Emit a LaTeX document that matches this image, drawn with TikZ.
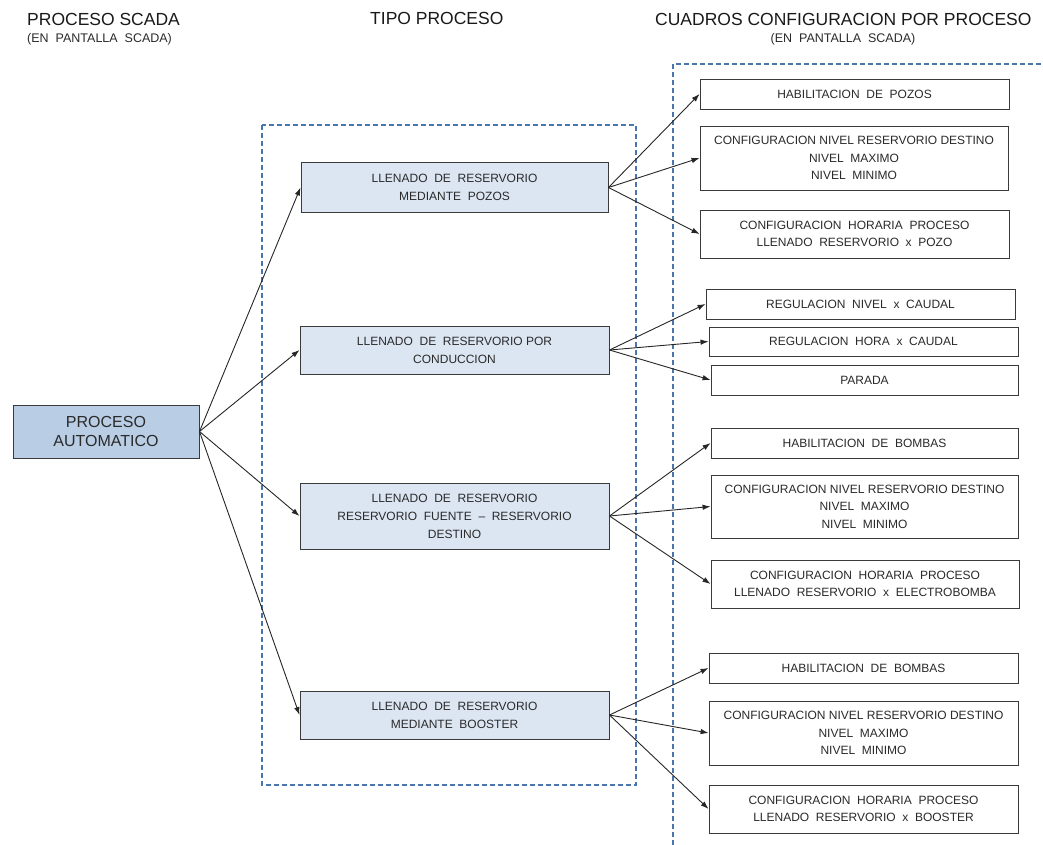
\documentclass[tikz,border=0pt]{standalone}
\usepackage{fontspec}
\setmainfont{Liberation Sans}
\usetikzlibrary{arrows.meta}
\definecolor{frameblue}{HTML}{4A76AE}
\definecolor{mainfill}{HTML}{B9CDE5}
\definecolor{typefill}{HTML}{DCE6F2}
\definecolor{boxline}{HTML}{3A3A3A}
\definecolor{txt}{HTML}{2A2A2A}
\begin{document}
\begin{tikzpicture}[x=1pt,y=-1pt,
  every node/.style={text=txt, inner sep=0pt, align=center},
  headline/.style={font=\fontsize{17.5}{20}\selectfont, text=black!90},
  subline/.style={font=\fontsize{12.5}{14}\selectfont},
  mainbox/.style={draw=boxline, line width=1pt, fill=mainfill,
    font=\fontsize{16}{19}\selectfont},
  typebox/.style={draw=boxline, line width=1pt, fill=typefill,
    font=\fontsize{12}{18}\selectfont},
  cfgbox/.style={draw=boxline, line width=0.9pt, fill=white,
    font=\fontsize{12}{17.5}\selectfont},
  frame/.style={draw=frameblue, line width=1.4pt, dash pattern=on 5pt off 3pt},
  link/.style={draw=black!85, line width=0.9pt, -{Latex[length=8pt,width=5.5pt]}}
]
\useasboundingbox (0,0) rectangle (1043,845);

% column headings
\node[headline, anchor=base west] (hscada) at (27,26) {PROCESO SCADA};
\node[subline, anchor=base west] (sscada) at (27,43) {(EN~ PANTALLA~ SCADA)};
\node[headline, anchor=base west] (htipo) at (370,25) {TIPO PROCESO};
\node[headline, anchor=base west] (hcfg) at (655,26) {CUADROS CONFIGURACION POR PROCESO};
\node[subline, anchor=base] (scfg) at (843,43) {(EN~ PANTALLA~ SCADA)};

% dashed frames around the process types and the configuration panels
\draw[frame] (262,125) rectangle (636,785);
\draw[frame] (673,845) -- (673,64) -- (1043,64);

% automatic process
\node[mainbox, minimum width=186pt, minimum height=53pt] (auto) at (106,431.5)
  {PROCESO\\AUTOMATICO};

% process types
\node[typebox, minimum width=307pt, minimum height=49pt] (pozos) at (454.5,187.5)
  {LLENADO~ DE~ RESERVORIO\\MEDIANTE~ POZOS};
\node[typebox, minimum width=309pt, minimum height=48pt] (cond) at (454.5,350)
  {LLENADO~ DE~ RESERVORIO POR\\CONDUCCION};
\node[typebox, minimum width=309pt, minimum height=66pt] (fuente) at (454.5,516)
  {LLENADO~ DE~ RESERVORIO\\RESERVORIO~ FUENTE~ --~ RESERVORIO\\DESTINO};
\node[typebox, minimum width=309pt, minimum height=48pt] (booster) at (454.5,715)
  {LLENADO~ DE~ RESERVORIO\\MEDIANTE~ BOOSTER};

% configuration panels: wells
\node[cfgbox, minimum width=309pt, minimum height=30pt] (p1) at (854.5,94)
  {HABILITACION~ DE~ POZOS};
\node[cfgbox, minimum width=308pt, minimum height=64pt] (p2) at (854,158)
  {CONFIGURACION NIVEL RESERVORIO DESTINO\\NIVEL~ MAXIMO\\NIVEL~ MINIMO};
\node[cfgbox, minimum width=309pt, minimum height=48pt] (p3) at (854.5,234)
  {CONFIGURACION~ HORARIA~ PROCESO\\LLENADO~ RESERVORIO~ x~ POZO};

% configuration panels: conduction
\node[cfgbox, minimum width=309pt, minimum height=30pt] (c1) at (860.5,304)
  {REGULACION~ NIVEL~ x~ CAUDAL};
\node[cfgbox, minimum width=309pt, minimum height=29pt] (c2) at (863.5,341.5)
  {REGULACION~ HORA~ x~ CAUDAL};
\node[cfgbox, minimum width=307pt, minimum height=30pt] (c3) at (864.5,380)
  {PARADA};

% configuration panels: source to destination reservoir
\node[cfgbox, minimum width=307pt, minimum height=30pt] (f1) at (864.5,443)
  {HABILITACION~ DE~ BOMBAS};
\node[cfgbox, minimum width=307pt, minimum height=63pt] (f2) at (864.5,506.5)
  {CONFIGURACION NIVEL RESERVORIO DESTINO\\NIVEL~ MAXIMO\\NIVEL~ MINIMO};
\node[cfgbox, minimum width=308pt, minimum height=48pt] (f3) at (865,584)
  {CONFIGURACION~ HORARIA~ PROCESO\\LLENADO~ RESERVORIO~ x~ ELECTROBOMBA};

% configuration panels: booster
\node[cfgbox, minimum width=309pt, minimum height=30pt] (b1) at (863.5,668)
  {HABILITACION~ DE~ BOMBAS};
\node[cfgbox, minimum width=309pt, minimum height=64pt] (b2) at (863.5,733)
  {CONFIGURACION NIVEL RESERVORIO DESTINO\\NIVEL~ MAXIMO\\NIVEL~ MINIMO};
\node[cfgbox, minimum width=309pt, minimum height=48pt] (b3) at (863.5,809)
  {CONFIGURACION~ HORARIA~ PROCESO\\LLENADO~ RESERVORIO~ x~ BOOSTER};

% connectors
\foreach \t in {pozos,cond,fuente,booster}
  \draw[link] (auto.east) -- (\t.west);
\foreach \t in {p1,p2,p3}
  \draw[link] (pozos.east) -- (\t.west);
\foreach \t in {c1,c2,c3}
  \draw[link] (cond.east) -- (\t.west);
\foreach \t in {f1,f2,f3}
  \draw[link] (fuente.east) -- (\t.west);
\foreach \t in {b1,b2,b3}
  \draw[link] (booster.east) -- (\t.west);
\end{tikzpicture}
\end{document}
